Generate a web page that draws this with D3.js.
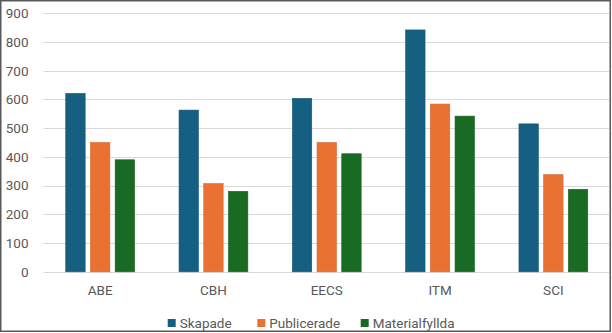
<!DOCTYPE html>
<html><head><meta charset="utf-8">
<script src="https://cdn.jsdelivr.net/npm/d3@7"></script>
<style>body{margin:0;background:#fff}svg{display:block}text{font-family:Roboto,"Liberation Sans",sans-serif;fill:#595959}</style>
</head><body><svg id="c" width="612" height="333"></svg>
<script>
const categories = ["ABE","CBH","EECS","ITM","SCI"];
const seriesNames = ["Skapade","Publicerade","Materialfyllda"];
const skapade = [621, 563, 604, 842, 515];
const publicerade = [450, 307, 450, 584, 338];
const materialfyllda = [390, 280, 411, 542, 287];
const yTicks = [0,100,200,300,400,500,600,700,800,900];
const colors = ["#156082","#E97132","#196B24"];

const svg = d3.select("#c");
svg.append("rect").attr("x",0.75).attr("y",0.75).attr("width",609.5).attr("height",330.5)
  .attr("fill","#fff").attr("stroke","#595959").attr("stroke-width",1.5);

const m = {left:43.5, right:610, top:13.3, bottom:271.8};
const x = d3.scaleBand().domain(categories).range([m.left,m.right]);
const y = d3.scaleLinear().domain([0,900]).range([m.bottom,m.top]);
const series = [skapade, publicerade, materialfyllda];

const g = svg.append("g");
g.selectAll("line.grid").data(yTicks).join("line")
  .attr("x1",m.left).attr("x2",m.right-1)
  .attr("y1",d=>Math.round(y(d))+0.5).attr("y2",d=>Math.round(y(d))+0.5)
  .attr("stroke","#d9d9d9").attr("stroke-width",1);

const yAxis = d3.axisLeft(y).tickValues(yTicks).tickSize(0).tickPadding(0);
const ya = svg.append("g").attr("transform",`translate(28.5,0)`).call(yAxis);
ya.select(".domain").remove();
ya.selectAll("text").attr("font-size","13.5px").attr("fill","#595959").style("font-family","Roboto, sans-serif");

const xAxis = d3.axisBottom(x).tickSize(0).tickPadding(0);
const xa = svg.append("g").attr("transform",`translate(0,${m.bottom+14})`).call(xAxis);
xa.select(".domain").remove();
xa.selectAll("text").attr("font-size","13.5px").attr("fill","#595959").style("font-family","Roboto, sans-serif");

const bw = 19.4, step = 24.7;
series.forEach((vals,si)=>{
  g.selectAll(null).data(vals).join("rect")
    .attr("x",(d,i)=>x(categories[i])+x.bandwidth()/2+(si-1)*step-bw/2)
    .attr("y",d=>y(d)).attr("width",bw).attr("height",d=>y(0)-y(d))
    .attr("fill",colors[si]).attr("stroke",d3.color(colors[si]).darker(0.3)).attr("stroke-width",0.6);
});

const legX = [167.7, 257.3, 360.7];
const leg = svg.append("g");
seriesNames.forEach((n,i)=>{
  leg.append("rect").attr("x",legX[i]).attr("y",319).attr("width",8).attr("height",8).attr("fill",colors[i]);
  leg.append("text").attr("x",legX[i]+12).attr("y",323).attr("dy","0.35em")
    .attr("font-size","13.5px").text(n);
});
</script></body></html>
